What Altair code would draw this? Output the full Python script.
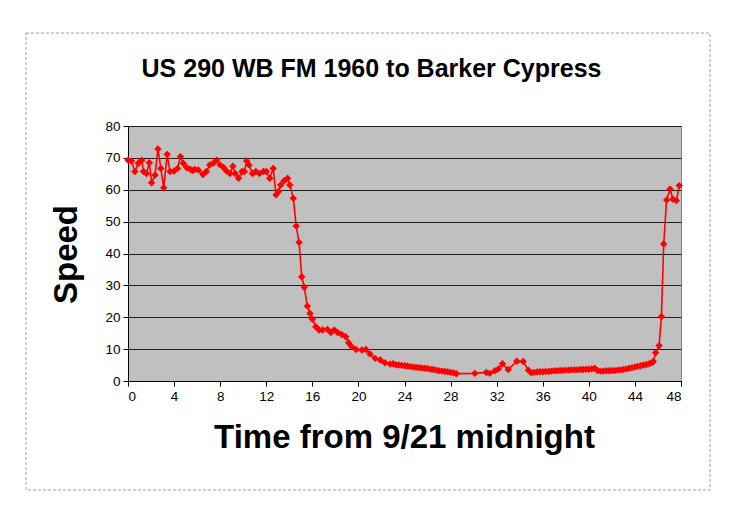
import altair as alt
import pandas as pd

hours = [0, 0.3, 0.6, 0.9, 1.2, 1.35, 1.6, 1.85, 2.05, 2.35, 2.6, 2.85, 3.1, 3.4, 3.65,
         4.0, 4.3, 4.55, 4.8, 5.1, 5.4, 5.6, 5.8, 6.1, 6.5, 6.8, 7.1, 7.4, 7.7, 8.0,
         8.3, 8.55, 8.85, 9.1, 9.3, 9.6, 9.9, 10.1, 10.3, 10.5, 10.8, 11.1, 11.4, 11.75,
         12.0, 12.3, 12.6, 12.85, 13.05, 13.25, 13.55, 13.85, 14.05, 14.35, 14.6, 14.85,
         15.08, 15.3, 15.57, 15.8, 16.0, 16.3, 16.6, 16.9, 17.3, 17.6, 17.9, 18.2, 18.55,
         18.9, 19.15, 19.4, 19.8, 20.3, 20.65, 21.0, 21.45, 21.9, 22.3, 22.75, 23.0, 23.25,
         23.5, 23.75, 24.0, 24.25, 24.5, 24.75, 25.0, 25.25, 25.5, 25.75, 26.0, 26.25, 26.5,
         26.75, 27.0, 27.25, 27.5, 27.75, 28.0, 28.25, 28.5, 30.1, 31.1, 31.4, 31.85, 32.15,
         32.5, 33.0, 33.75, 34.3, 34.75, 35.0, 35.25, 35.5, 35.75, 36.0, 36.25, 36.5, 36.75,
         37.0, 37.25, 37.5, 37.75, 38.0, 38.25, 38.5, 38.75, 39.0, 39.25, 39.5, 39.75, 40.0,
         40.25, 40.5, 40.75, 41.0, 41.25, 41.5, 41.75, 42.0, 42.25, 42.5, 42.75, 43.0, 43.25,
         43.5, 43.75, 44.0, 44.25, 44.5, 44.75, 45.0, 45.25, 45.5, 45.6, 45.8, 46.1, 46.3,
         46.5, 46.75, 47.05, 47.3, 47.6, 47.85]

speeds = [69.3, 69.0, 65.7, 68.3, 69.3, 65.7, 65.1, 68.5, 62.2, 64.6, 72.8, 66.7, 60.6, 71.1, 65.7,
          65.9, 66.7, 70.4, 68.3, 67.0, 66.4, 66.0, 66.4, 66.2, 64.8, 65.7, 67.8, 68.3, 69.3, 67.8,
          67.0, 65.9, 65.1, 67.4, 65.1, 63.6, 65.7, 65.7, 69.0, 67.8, 65.1, 65.7, 65.1, 65.7,
          65.7, 63.6, 66.7, 58.4, 59.4, 61.5, 62.8, 63.6, 61.5, 57.3, 48.6, 43.5,
          32.7, 29.4, 23.5, 21.2, 19.4, 17.0, 16.0, 16.0, 16.2, 15.2, 16.0, 15.2, 14.6,
          13.9, 12.0, 10.8, 9.9, 9.7, 9.9, 8.5, 7.1, 6.6, 5.7, 5.3, 5.4, 5.1,
          5.0, 4.9, 4.8, 4.7, 4.5, 4.4, 4.3, 4.2, 4.1, 4.0, 3.9, 3.7, 3.6,
          3.4, 3.2, 3.1, 3.0, 2.9, 2.7, 2.6, 2.3, 2.4, 2.7, 2.4, 3.2, 3.8,
          5.4, 3.6, 6.2, 6.1, 3.4, 2.6, 2.7, 2.8, 2.9, 2.9, 3.0, 3.0, 3.1,
          3.2, 3.2, 3.3, 3.3, 3.4, 3.4, 3.5, 3.5, 3.5, 3.6, 3.6, 3.7, 3.7,
          3.8, 4.0, 3.3, 3.1, 3.1, 3.2, 3.2, 3.3, 3.3, 3.4, 3.5, 3.6, 3.8,
          4.0, 4.2, 4.4, 4.6, 4.8, 5.0, 5.2, 5.4, 5.8, 6.1, 8.9, 11.1, 20.2,
          43.0, 56.8, 60.2, 57.0, 56.6, 61.3]

x_ticks = list(range(0, 49, 4))
y_ticks = list(range(0, 81, 10))

df = pd.DataFrame({"hour": hours, "speed": speeds})

FONT = "Liberation Sans"

line = alt.Chart(df).mark_line(
    color="#FF0000", strokeWidth=1.6,
    point=alt.OverlayMarkDef(shape="diamond", filled=True, size=55, color="#FF0000"),
).encode(
    x=alt.X("hour:Q", scale=alt.Scale(domain=[0, 48], nice=False),
            axis=alt.Axis(values=x_ticks, title="Time from 9/21 midnight", grid=False,
                          titleFontSize=33, titleFont=FONT, titleFontWeight="bold",
                          titleBaseline="alphabetic", titleY=66, titleX=276)),
    y=alt.Y("speed:Q", scale=alt.Scale(domain=[0, 80], nice=False),
            axis=alt.Axis(values=y_ticks, title="Speed", grid=True, gridColor="#202020",
                          gridWidth=1.2,
                          titleFontSize=33, titleFont=FONT, titleFontWeight="bold",
                          titleAngle=270, titleBaseline="middle", titleAlign="center",
                          titleX=-62, titleY=128)),
)

border = alt.Chart(pd.DataFrame({"a": [0]})).mark_rect(
    filled=False, stroke="#A0A0A0", strokeWidth=1, strokeDash=[3, 2], clip=False
).encode(
    x=alt.value(-102), x2=alt.value(582), y=alt.value(-93), y2=alt.value(364)
)

chart = alt.layer(border, line).properties(
    width=553, height=255,
    padding={"left": 120, "top": 118, "right": 46, "bottom": 120},
    autosize="none",
    background="white",
    title=alt.TitleParams("US 290 WB FM 1960 to Barker Cypress", font=FONT, fontSize=25,
                          fontWeight="bold", color="black", anchor="middle", dx=-33,
                          offset=0, baseline="alphabetic", dy=69),
).configure_view(
    fill="#C0C0C0", stroke="#808080", strokeWidth=1
).configure_axis(
    domainColor="black", tickColor="black", tickSize=5, labelFont=FONT, labelFontSize=13.5,
    labelColor="black", titleColor="black", labelPadding=3
)

chart.save("out.html", embed_options={"renderer": "svg", "actions": False})
